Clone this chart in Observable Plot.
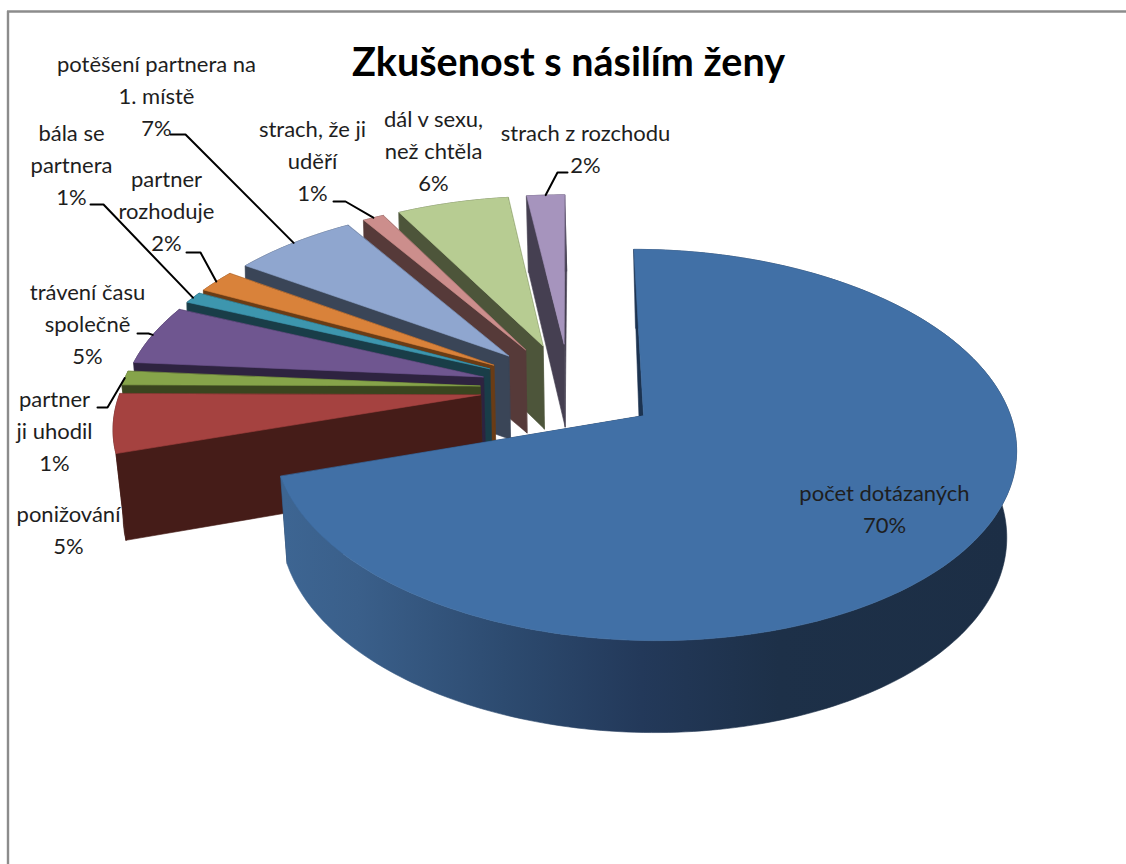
<!DOCTYPE html>
<html><head><meta charset="utf-8">
<style>html,body{margin:0;padding:0;background:#fff}svg{display:block}</style>
<script src="https://cdn.jsdelivr.net/npm/d3@7"></script>
<script src="https://cdn.jsdelivr.net/npm/@observablehq/plot@0.6"></script>
</head><body><div id="chart"></div>
<script>
const title = "Zkušenost s násilím ženy";
const categories = ["počet dotázaných","ponižování","partner\nji uhodil","trávení času\nspolečně","bála se\npartnera","partner\nrozhoduje","potěšení partnera na\n1. místě","strach, že ji\nuděří","dál v sexu,\nnež chtěla","strach z rozchodu"];
const shares = [70.1,5.0,1.2,5.2,1.0,2.0,6.5,1.1,5.9,2.0];
const topColors = ["#4170a6","#a54240","#86a44a","#6f5690","#3d96ae","#d9823a","#8fa6cf","#cc8e8c","#b7cc92","#a694bd"];
const wallColors = ["#1c3350","#451c18","#3a451f","#2e2340","#193d48","#6a3c15","#3a4557","#563a39","#4d553a","#453f51"];
const labelX = [884,68,54,87,71,166,156,312,433,585];
const labelY = [506,527,428,321,162,208,93,158,148,146];
const leaderElbows = [null,null,[[97,407],[107,407]],[[137,333],[148,333]],[[90,204],[103,204]],[[186,252],[200,252]],[[170,134],[185,134]],[[333,201],[345,201]],null,[[567,172],[557,172]]];

// Perspective of the tilted pie plane
const view = {X0:569,Y0:387.5,A:359,B:183,k:0.147,explode:0.25,d0:84.5,d1:6.5,shrink:0.978,backShift:2};
const proj = (u,v)=>{const w=1-view.k*v;return {x:view.X0+view.A*u/w,y:view.Y0+view.B*v/w,v};};
const low = p=>{
  const t=Math.max(0,Math.min(1,(p.v+0.5)/0.5));
  const front=view.X0+(p.x-view.X0)*view.shrink, back=p.x+view.backShift;
  return {x:back+(front-back)*t,y:p.y+view.d0+view.d1*p.v};
};
const total = d3.sum(shares);
let acc=0;
const slices = shares.map((s,i)=>{
  const t0=acc/total*2*Math.PI; acc+=s; const t1=acc/total*2*Math.PI; const m=(t0+t1)/2;
  const au=view.explode*Math.sin(m), av=-view.explode*Math.cos(m);
  const pt=(t)=>proj(au+Math.sin(t),av-Math.cos(t));
  const n=Math.max(3,Math.ceil((t1-t0)/0.02));
  const arc=d3.range(n+1).map(j=>pt(t0+(t1-t0)*j/n));
  return {i,apex:proj(au,av),arc,mid:pt(m)};
});
const poly=(pts,fill)=>Plot.line(pts,{x:"x",y:"y",curve:"linear-closed",fill,stroke:fill,strokeWidth:0.6});
const marks=[];
// gradient definition for the shaded rim of the large slice
marks.push((index,{x})=>{
  const defs=d3.create("svg:defs");
  const g=defs.append("linearGradient").attr("id","rim").attr("gradientUnits","userSpaceOnUse")
    .attr("x1",x(285)).attr("x2",x(1010)).attr("y1",0).attr("y2",0);
  [[0,"#3d6592"],[0.1,"#3a5f8a"],[0.3,"#2d4b70"],[0.49,"#23395a"],[0.68,"#1d3048"],[1,"#1c2e45"]]
    .forEach(([o,c])=>g.append("stop").attr("offset",o).attr("stop-color",c));
  return defs.node();
});
marks.push(Plot.ruleX([7.5],{y1:11,y2:864,stroke:"#8c8c8c",strokeWidth:2.4}));
marks.push(Plot.ruleY([11],{x1:7,x2:1126,stroke:"#8c8c8c",strokeWidth:2.4}));
const order=[9,8,7,6,5,4,3,2,1,0];
for(const i of order){
  const s=slices[i], wc=wallColors[i];
  const first=s.arc[0], last=s.arc[s.arc.length-1];
  marks.push(poly([s.apex,last,low(last),low(s.apex)],wc));
  marks.push(poly([...s.arc,...s.arc.map(low).reverse()],i===0?"url(#rim)":wc));
  marks.push(poly([s.apex,first,low(first),low(s.apex)],wc));
  marks.push(poly([s.apex,...s.arc],topColors[i]));
}
// leader lines
slices.forEach((s,i)=>{
  if(!leaderElbows[i])return;
  const pts=[...leaderElbows[i].map(([x,y])=>({x,y})),s.mid];
  marks.push(Plot.line(pts,{x:"x",y:"y",stroke:"#000",strokeWidth:2}));
});
const labels=categories.map((c,i)=>({text:c+"\n"+Math.round(shares[i])+"%",x:labelX[i],y:labelY[i]}));
marks.push(Plot.text(labels,{x:"x",y:"y",text:"text",fontFamily:"Lato",fontSize:22,lineHeight:1.45,fill:"#1e1e1e",textAnchor:"middle",lineAnchor:"middle"}));
marks.push(Plot.text([title],{x:()=>568,y:()=>63,text:d=>d,fontFamily:"Lato",fontWeight:700,fontSize:39.5,fill:"#000",textAnchor:"middle"}));
const chart=Plot.plot({width:1126,height:864,margin:0,
  x:{domain:[0,1126],range:[0,1126],axis:null},
  y:{domain:[0,864],range:[0,864],axis:null},
  marks});
document.getElementById("chart").append(chart);
</script></body></html>
